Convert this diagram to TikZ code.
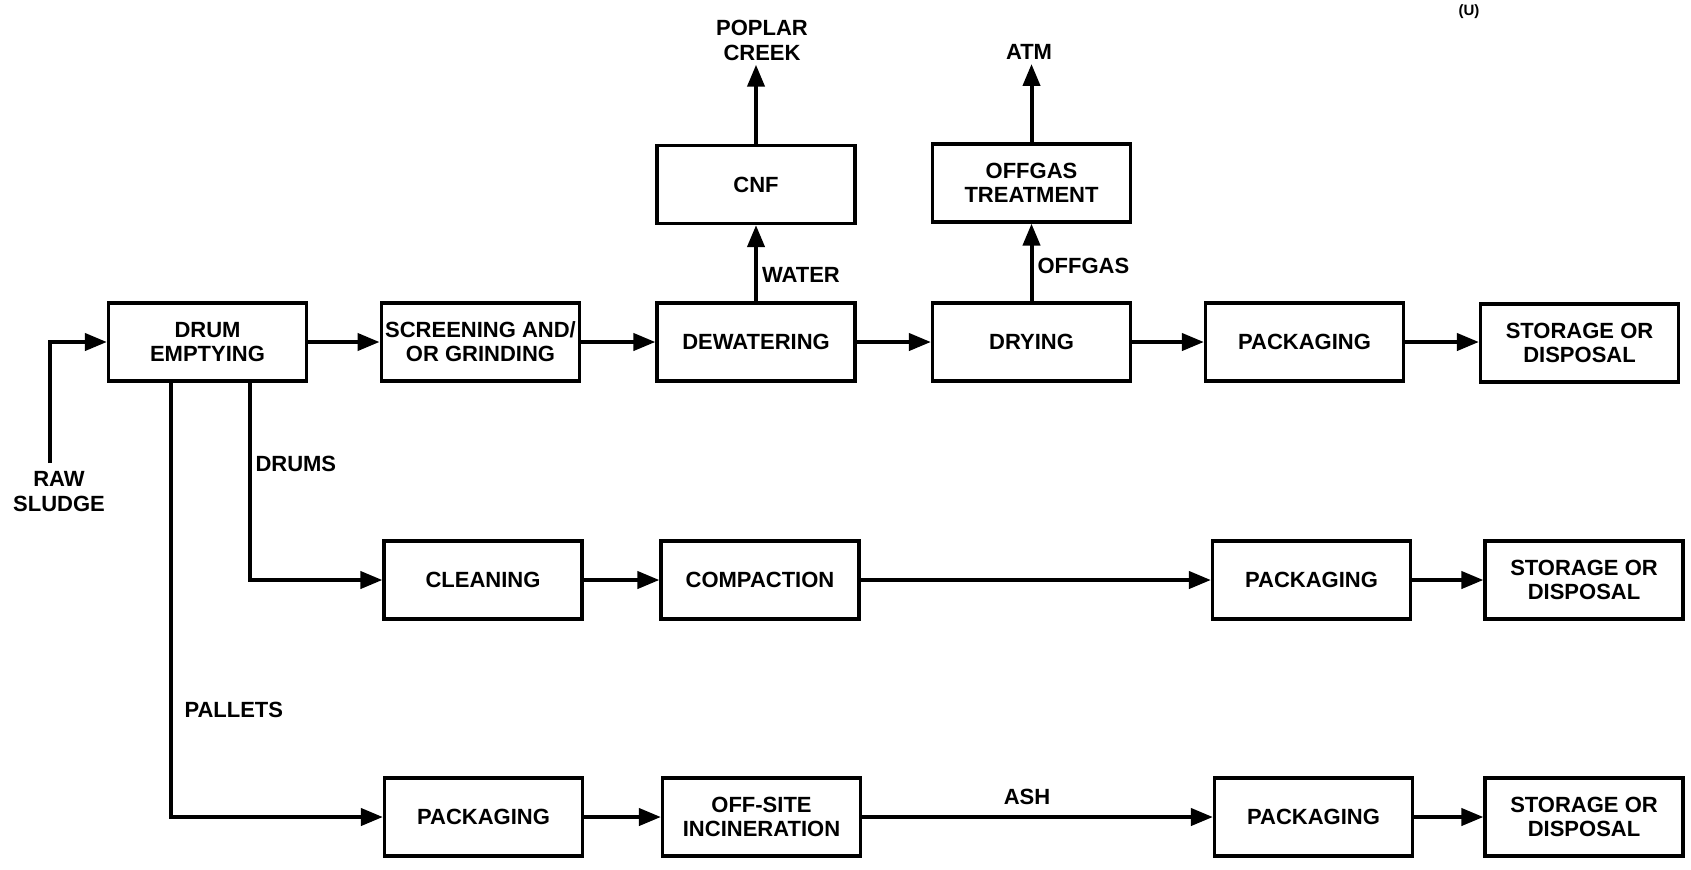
\documentclass[tikz,border=0pt]{standalone}
\usepackage{fontspec}
\setmainfont{Liberation Sans}
\usetikzlibrary{arrows.meta,positioning,calc}
\tikzset{
  procbox/.style={draw, line width=1.6pt, minimum width=99pt, minimum height=39pt,
    align=center, inner sep=2pt, font=\bfseries\fontsize{11}{12}\selectfont},
  flowln/.style={-{Triangle[length=11pt,width=8.5pt]}, line width=2pt},
  flowlbl/.style={font=\bfseries\fontsize{11}{12.5}\selectfont, inner sep=2pt, align=center},
}

\begin{document}
\begin{tikzpicture}[x=0.5pt, y=-0.5pt]
    \useasboundingbox (0,0) rectangle (1691,869);
    \node[font=\bfseries\fontsize{7.5}{8}\selectfont] (mark) at (1469,12) {(U)};
    % sludge line
    \node[procbox] (drum) at (207.5,342) {DRUM\\EMPTYING};
    \node[procbox] (screen) at (480.5,342) {SCREENING AND/\\OR GRINDING};
    \node[procbox] (dewater) at (756,342) {DEWATERING};
    \node[procbox] (dry) at (1031.5,342) {DRYING};
    \node[procbox] (packa) at (1304.5,342) {PACKAGING};
    \node[procbox] (storea) at (1579.5,343) {STORAGE OR\\DISPOSAL};
    \node[procbox] (cnf) at (756,184.5) {CNF};
    \node[procbox] (offgas) at (1031.5,183) {OFFGAS\\TREATMENT};
    \node[flowlbl] (creek) at (762,40) {POPLAR\\CREEK};
    \node[flowlbl] (atm) at (1029,52) {ATM};
    \node[flowlbl] (raw) at (59,492) {RAW\\SLUDGE};
    \coordinate (rawtop) at (50,463);
    \draw[flowln] (rawtop) |- (drum.west);
    \draw[flowln] (drum) -- (screen);
    \draw[flowln] (screen) -- (dewater);
    \draw[flowln] (dewater) -- (dry);
    \draw[flowln] (dry) -- (packa);
    \draw[flowln] (packa.east) -- (packa.east -| storea.west);
    \draw[flowln] (dewater) -- node[flowlbl, anchor=west, pos=0.35] {WATER} (cnf);
    \draw[flowln] (cnf.north) -- (cnf.north |- creek.south);
    \draw[flowln] (dry) -- node[flowlbl, anchor=west, pos=0.45] {OFFGAS} (offgas);
    \draw[flowln] (offgas.north) -- (offgas.north |- atm.south);
    % drums
    \node[procbox] (clean) at (483,580) {CLEANING};
    \node[procbox] (compact) at (760,580) {COMPACTION};
    \node[procbox] (packb) at (1311.5,580) {PACKAGING};
    \node[procbox] (storeb) at (1584,580) {STORAGE OR\\DISPOSAL};
    \draw[flowln] ($(drum.south)+(42,0)$) |- node[flowlbl, anchor=west, pos=0.205] {DRUMS} (clean.west);
    \draw[flowln] (clean) -- (compact);
    \draw[flowln] (compact) -- (packb);
    \draw[flowln] (packb) -- (storeb);
    % pallets
    \node[procbox] (packc) at (483.5,817) {PACKAGING};
    \node[procbox] (incin) at (761.5,817) {OFF-SITE\\INCINERATION};
    \node[procbox] (packd) at (1313.5,817) {PACKAGING};
    \node[procbox] (storec) at (1584,817) {STORAGE OR\\DISPOSAL};
    \draw[flowln] ($(drum.south)+(-37,0)$) |- node[flowlbl, anchor=west, pos=0.377, xshift=4pt] {PALLETS} (packc.west);
    \draw[flowln] (packc) -- (incin);
    \draw[flowln] (incin) -- node[flowlbl, above, pos=0.47, yshift=3pt] {ASH} (packd);
    \draw[flowln] (packd) -- (storec);
\end{tikzpicture}
\end{document}
